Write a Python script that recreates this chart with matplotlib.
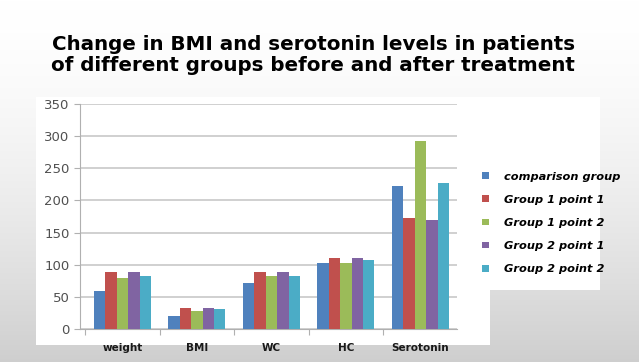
import numpy as np
import matplotlib
matplotlib.use("Agg")
import matplotlib.pyplot as plt
from matplotlib.patches import Rectangle

categories = ["weight", "BMI", "WC", "HC", "Serotonin"]
series_names = ["comparison group", "Group 1 point 1", "Group 1 point 2",
                "Group 2 point 1", "Group 2 point 2"]
comparison = [59, 20, 72, 102, 223]
g1_p1 = [88, 33, 88, 111, 173]
g1_p2 = [80, 28, 82, 103, 293]
g2_p1 = [88, 33, 88, 111, 169]
g2_p2 = [82, 31, 82, 107, 227]
colors = ["#4F81BD", "#C0504D", "#9BBB59", "#8064A2", "#4BACC6"]

W, H = 639, 362
fig = plt.figure(figsize=(W / 100, H / 100), dpi=100)

# background: light vertical gradient with white panel behind the chart
bg = fig.add_axes([0, 0, 1, 1], zorder=-10)
t = np.linspace(0, 1, 256).reshape(-1, 1)
grad = 1.0 - 0.19 * t ** 1.6
bg.imshow(np.dstack([grad, grad, grad]), aspect="auto", extent=[0, W, H, 0])
bg.add_patch(Rectangle((36, 97), 564, 193, color="white", lw=0))
bg.add_patch(Rectangle((36, 97), 454, 248, color="white", lw=0))
bg.set_xlim(0, W)
bg.set_ylim(H, 0)
bg.axis("off")

ax = fig.add_axes([80 / W, 1 - 329 / H, 377 / W, 225 / H])
ax.set_facecolor("none")

values = [comparison, g1_p1, g1_p2, g2_p1, g2_p2]
x = np.arange(len(categories))
bw = 0.153
for i, (vals, name) in enumerate(zip(values, series_names)):
    ax.bar(x + (i - 2) * bw, vals, bw, color=colors[i], label=name, zorder=3)

ax.set_xlim(-0.57, 4.49)
ax.set_ylim(0, 350)
ax.set_yticks(range(0, 351, 50))
ax.grid(axis="y", color="#c8c8c8", lw=1.2, zorder=0)
for s in ["top", "right"]:
    ax.spines[s].set_visible(False)
ax.spines["left"].set_color("#b0b0b0")
ax.spines["bottom"].set_color("#b0b0b0")
ax.tick_params(axis="y", length=4, colors="#b0b0b0", labelcolor="#505050", labelsize=9.5)

ax.set_xticks(np.arange(-0.5, 4.5, 1))
ax.set_xticklabels([])
ax.tick_params(axis="x", length=4, colors="#b0b0b0")
for xi, lab in zip(x, categories):
    ax.text(xi, -0.085, lab, transform=ax.get_xaxis_transform(), ha="center",
            va="center", fontsize=7.5, fontweight="bold", color="#1a1a1a")

fig.text(0.49, 1 - 55 / H, "Change in BMI and serotonin levels in patients\n"
         "of different groups before and after treatment",
         ha="center", va="center", fontsize=14.3, fontweight="bold",
         linespacing=1.12, color="black")

handles, labels = ax.get_legend_handles_labels()
fig.legend(handles, labels, loc="center left", bbox_to_anchor=(472 / W, 1 - 223 / H),
           frameon=False, handlelength=0.55, handleheight=0.55, handletextpad=1.4,
           labelspacing=1.15, prop={"size": 8.2, "style": "italic", "weight": "bold"})

fig.savefig("out.png", dpi=100)
